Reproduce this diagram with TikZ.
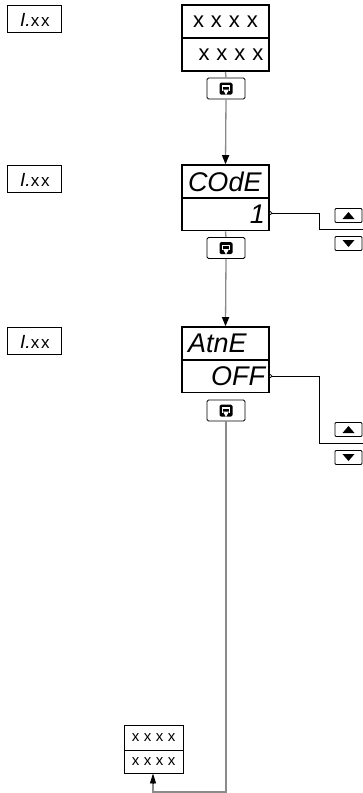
\documentclass[tikz,border=0pt]{standalone}
\usepackage{fontspec}
\setsansfont{Liberation Sans}
\newfontfamily\segfont{Liberation Sans}
\usetikzlibrary{arrows.meta,calc}
\definecolor{conn}{HTML}{8A8A8A}
\newcommand{\xg}[1]{\hspace{#1}}
\begin{document}
\begin{tikzpicture}[x=1pt,y=-1pt,
  disprow/.style={draw, line width=1.6pt, minimum width=87pt, minimum height=33pt, inner sep=0pt},
  toptext/.style={disprow, text width=75pt, inner xsep=6pt, align=left, font=\segfont\itshape\fontsize{27}{27}\selectfont},
  bottext/.style={disprow, text width=79pt, inner xsep=4pt, align=right, font=\segfont\itshape\fontsize{27}{27}\selectfont},
  xrow/.style={disprow, font=\sffamily\fontsize{22}{22}\selectfont},
  lblbox/.style={draw, line width=0.9pt, minimum width=54pt, minimum height=27pt, inner sep=0pt},
  btn/.style={draw, line width=0.9pt, rounded corners=1.5pt, minimum width=38pt, minimum height=21pt, inner sep=0pt},
  arrbtn/.style={draw, line width=0.9pt, rounded corners=1pt, minimum width=27pt, minimum height=14pt, inner sep=0pt},
  smallrow/.style={draw, line width=0.9pt, minimum width=59pt, inner sep=0pt, font=\sffamily\fontsize{15}{15}\selectfont},
  gline/.style={draw=conn, line width=1.3pt},
  garrow/.style={gline, -{Triangle[length=9pt,width=7pt,color=black]}},
  bline/.style={draw=black, line width=0.9pt},
  dotc/.style={circle, draw=black, fill=white, line width=0.7pt, inner sep=0pt, minimum size=3pt}
]
\useasboundingbox (0,0) rectangle (363,793);

% label boxes
\foreach \n/\y in {l1/18.5, l2/178.5, l3/340.5}{
  \node[lblbox] (\n) at (34,\y) {};
  \node[anchor=base west, inner sep=0pt] (\n t) at (20,\y+7.5)
    {\segfont\itshape\fontsize{19}{19}\selectfont I.\fontsize{17}{17}\selectfont\upshape x\xg{2pt}x};
}

% display 1
\node[xrow] (d1t) at (225.5,21.5) {x\xg{7pt}x\xg{7pt}x\xg{7pt}x};
\node[xrow] (d1b) at (225.5,54.5) {\xg{11pt}x\xg{7pt}x\xg{7pt}x\xg{7pt}x};
% display 2
\node[toptext] (d2t) at (225.5,181.5) {COdE};
\node[bottext] (d2b) at (225.5,214) {1\xg{2pt}};
% display 3
\node[toptext] (d3t) at (225.5,343.5) {AtnE};
\node[bottext] (d3b) at (225.5,376) {OFF};

% buttons
\foreach \n/\y in {b1/88.5, b2/248, b3/410.5}{
  \node[btn] (\n) at (226,\y) {};
  \fill[black, rounded corners=1.5pt] ($(\n.center)+(-6.5,-6)$) rectangle ($(\n.center)+(6.5,6)$);
  \draw[white, line width=1.6pt] ($(\n.center)+(-3.5,2)$) -- ($(\n.center)+(-3.5,-2.5)$) -- ($(\n.center)+(3.5,-2.5)$) -- ($(\n.center)+(3.5,2)$);
  \fill[white] ($(\n.center)+(-3,1)$) -- ($(\n.center)+(3,1)$) -- ($(\n.center)+(0,6.5)$) -- cycle;
}

% vertical connectors
\path[gline] (d1b.south) -- (b1.north);
\path[garrow] (b1.south) -- (d2t.north);
\path[gline] (d2b.south) -- (b2.north);
\path[garrow] (b2.south) -- (d3t.north);

% final box
\node[smallrow, minimum height=25pt] (ft) at (153.5,737.5) {x\xg{4.5pt}x\xg{4.5pt}x\xg{4.5pt}x};
\node[smallrow, minimum height=23pt] (fb) at (153.5,761.5) {x\xg{4.5pt}x\xg{4.5pt}x\xg{4.5pt}x};
\coordinate (cb) at (226,792);
\coordinate (ab) at ($(fb.south)+(-0.5,10)$);
\path[gline] (b3.south) -- (cb) -| (ab);
\path[draw=black, line width=0.9pt, -{Triangle[length=10pt,width=6pt]}] (ab) -- ([xshift=-0.5pt]fb.south);

% up/down for display 2
\node[dotc] (p2) at (270.5,213) {};
\coordinate (e2) at (363,229);
\path[bline] (p2) -- (319,213) |- (e2);
\node[arrbtn] (u2) at (348.5,215.5) {};
\fill ($(u2.center)+(-6,3.5)$) -- ($(u2.center)+(6,3.5)$) -- ($(u2.center)+(0,-3.5)$) -- cycle;
\node[arrbtn] (w2) at (348.5,243.5) {};
\fill ($(w2.center)+(-6,-3.5)$) -- ($(w2.center)+(6,-3.5)$) -- ($(w2.center)+(0,3.5)$) -- cycle;

% up/down for display 3
\node[dotc] (p3) at (270.5,376) {};
\coordinate (e3) at (363,443);
\path[bline] (p3) -- (319,376) |- (e3);
\node[arrbtn] (u3) at (348.5,429.5) {};
\fill ($(u3.center)+(-6,3.5)$) -- ($(u3.center)+(6,3.5)$) -- ($(u3.center)+(0,-3.5)$) -- cycle;
\node[arrbtn] (w3) at (348.5,457.5) {};
\fill ($(w3.center)+(-6,-3.5)$) -- ($(w3.center)+(6,-3.5)$) -- ($(w3.center)+(0,3.5)$) -- cycle;
\end{tikzpicture}
\end{document}
